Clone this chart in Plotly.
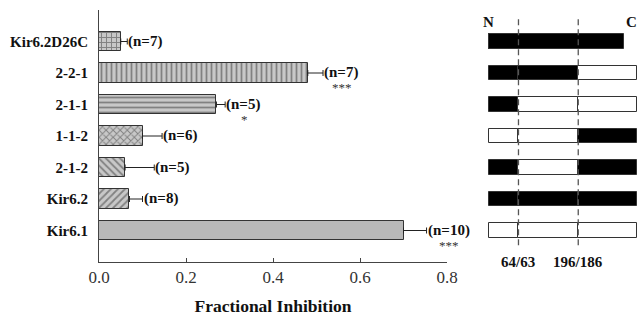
import plotly.graph_objects as go

# ---- data (bottom to top) ----
categories = ["Kir6.1", "Kir6.2", "2-1-2", "1-1-2", "2-1-1", "2-2-1", "Kir6.2D26C"]
values = [0.70, 0.07, 0.06, 0.10, 0.27, 0.48, 0.05]
errors = [0.053, 0.030, 0.067, 0.045, 0.020, 0.035, 0.015]
n_labels = ["(n=10)", "(n=8)", "(n=5)", "(n=6)", "(n=5)", "(n=7)", "(n=7)"]
stars = ["***", "", "", "", "*", "***", ""]
patterns = ["", "/", "\\", "x", "-", "|", "+"]
x_ticks = [0.0, 0.2, 0.4, 0.6, 0.8]

# chimera schematic: segment boundaries (schematic units) and segment colours per row
seg_bounds = [0, 1, 3]
seg_colors = [
    ["W", "W", "W"],  # Kir6.1
    ["B", "B", "B"],  # Kir6.2
    ["B", "W", "B"],  # 2-1-2
    ["W", "W", "B"],  # 1-1-2
    ["B", "W", "W"],  # 2-1-1
    ["B", "B", "W"],  # 2-2-1
    ["B", "B", "B"],  # Kir6.2D26C
]
row_ends = [4.95, 4.95, 4.95, 4.95, 4.95, 4.95, 4.53]
boundary_labels = ["64/63", "196/186"]
boundary_pos = [1, 3]

FONT = "Liberation Serif"
W, H = 638, 322
idx = list(range(len(categories)))

fig = go.Figure()

fig.add_trace(go.Bar(
    y=idx, x=values, orientation="h", width=0.62,
    marker=dict(
        color="#b8b8b8",
        line=dict(color="#333", width=1),
        pattern=dict(shape=patterns, fgcolor="#3a3a3a", bgcolor="#c8c8c8", size=5, solidity=0.35),
    ),
    error_x=dict(type="data", array=errors, arrayminus=[0] * len(errors), symmetric=False,
                 color="#222", thickness=1, width=3),
    xaxis="x", yaxis="y", showlegend=False,
))

# schematic bars
for s in range(len(seg_bounds)):
    bases, lens, cols = [], [], []
    for r in idx:
        start = seg_bounds[s]
        end = seg_bounds[s + 1] if s + 1 < len(seg_bounds) else row_ends[r]
        if r == 6:  # single continuous bar for D26C
            if s == 0:
                start, end = 0, row_ends[r]
            else:
                start, end = 0, 0
        bases.append(start)
        lens.append(end - start)
        cols.append("black" if seg_colors[r][s] == "B" else "white")
    fig.add_trace(go.Bar(
        y=idx, x=lens, base=bases, orientation="h", width=0.46,
        marker=dict(color=cols, line=dict(color="#333", width=1)),
        xaxis="x2", yaxis="y2", showlegend=False,
    ))

ann = []
for i in idx:
    xe = values[i] + errors[i]
    ann.append(dict(x=xe, y=i, xref="x", yref="y", text=n_labels[i], showarrow=False,
                    xanchor="left", yanchor="middle", xshift=-1,
                    font=dict(family=FONT, size=15, color="#111", weight="bold")))
    if stars[i]:
        wpx = 7.2 * len(n_labels[i])
        ann.append(dict(x=xe, y=i, xref="x", yref="y", text=stars[i], showarrow=False,
                        xanchor="center", yanchor="middle", xshift=wpx / 2 + 1, yshift=-15,
                        font=dict(family=FONT, size=13, color="#333")))

for p, lab in zip(boundary_pos, boundary_labels):
    ann.append(dict(x=p, y=-1.0, xref="x2", yref="y2", text=lab, showarrow=False,
                    xanchor="center", yanchor="middle", yshift=0,
                    font=dict(family=FONT, size=15, color="#111", weight="bold")))
ann.append(dict(x=0, y=6.62, xref="x2", yref="y2", text="N", showarrow=False,
                xanchor="center", yanchor="middle",
                font=dict(family=FONT, size=15, color="#111", weight="bold")))
ann.append(dict(x=1.0, y=6.62, xref="paper", yref="y2", text="C", showarrow=False,
                xanchor="right", yanchor="middle", xshift=1,
                font=dict(family=FONT, size=15, color="#111", weight="bold")))

shapes = []
for p in boundary_pos:
    shapes.append(dict(type="line", xref="x2", yref="y2", x0=p, x1=p, y0=-0.47, y1=6.82,
                       line=dict(color="#555", width=1.3, dash="6px,4px"), layer="above"))

ydom = [1 - 262 / H, 1 - 10 / H]
fig.update_layout(
    width=W, height=H, margin=dict(l=0, r=0, t=0, b=0, autoexpand=False),
    paper_bgcolor="white", plot_bgcolor="white",
    bargap=0, barmode="overlay",
    xaxis=dict(domain=[99 / W, 447 / W], range=[0, 0.8], tickvals=x_ticks, tickformat=".1f",
               showline=True, linecolor="#444", linewidth=1, ticks="inside", ticklen=4,
               tickcolor="#444", showgrid=False, zeroline=False, anchor="y", automargin=False,
               tickfont=dict(family=FONT, size=17, color="#333"),
               title=dict(text="Fractional Inhibition", standoff=13,
                          font=dict(family=FONT, size=17.5, color="#111", weight="bold"))),
    yaxis=dict(domain=ydom, range=[-1, 7], tickvals=idx, ticktext=categories,
               showline=True, linecolor="#444", linewidth=1, ticks="", showgrid=False,
               zeroline=False, anchor="x", ticklabelstandoff=7, automargin=False,
               tickfont=dict(family=FONT, size=15, color="#111", weight="bold")),
    xaxis2=dict(domain=[488 / W, 1.0], range=[-0.02, 5], visible=False, anchor="y2",
                automargin=False),
    yaxis2=dict(domain=ydom, range=[-1, 7], visible=False, anchor="x2", matches="y",
                automargin=False),
    annotations=ann, shapes=shapes,
)

fig.write_html("out.html", config={"displayModeBar": False},
               post_script="document.body.style.margin='0px';document.body.style.overflow='hidden';")
